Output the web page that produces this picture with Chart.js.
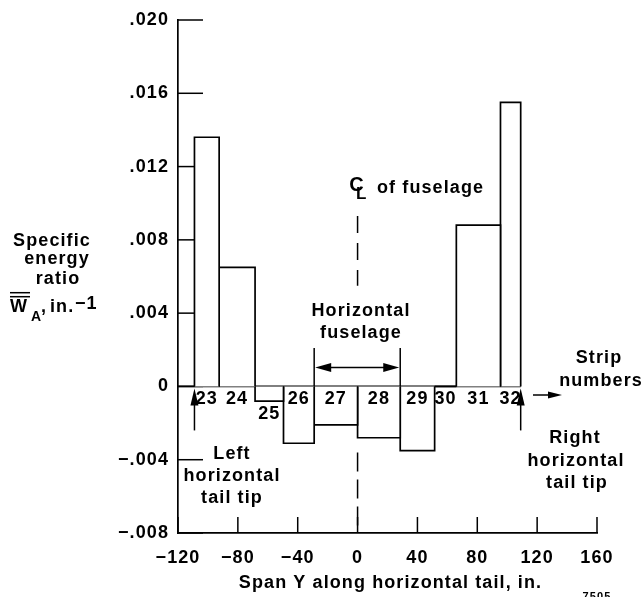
<!DOCTYPE html>
<html>
<head>
<meta charset="utf-8">
<script src="https://cdn.jsdelivr.net/npm/chart.js@4"></script>
<style>
  body { margin: 0; background: #fff; overflow: hidden; }
  canvas { display: block; }
</style>
</head>
<body>
<canvas id="chart" width="642" height="597"></canvas>
<script>
// strip data
const stripNumbers = [23, 24, 25, 26, 27, 28, 29, 30, 31, 32];
const stripEdges = [-109, -92.5, -68.5, -49.5, -29, 0, 28.5, 51.5, 66, 95.5, 109];
const energyRatio = [0.0136, 0.0065, -0.0008, -0.0031, -0.0021, -0.0028, -0.0035, 0, 0.0088, 0.0155];

const spanTicks = [-120, -80, -40, 0, 40, 80, 120, 160];
const ratioTicks = [-0.008, -0.004, 0, 0.004, 0.008, 0.012, 0.016, 0.020];

// fuselage limits and centerline dashes
const fuselageEdges = [-29, 28.5];
const fuselageArrowY = 0.00103;
const fuselageLineTop = 0.0021;
const centerlineUpper = [0.0093, 0.0055];
const centerlineLower = [-0.0036, -0.008];

const FONT = '"Liberation Sans", Arial, sans-serif';
Chart.defaults.font.family = FONT;
Chart.defaults.color = '#000';

const datasets = [];
stripNumbers.forEach((n, i) => {
    const x0 = stripEdges[i], x1 = stripEdges[i + 1], v = energyRatio[i];
    datasets.push({
        label: 'Strip ' + n,
        data: [{x: x0, y: 0}, {x: x0, y: v}, {x: x1, y: v}, {x: x1, y: 0}],
        borderColor: '#000',
        borderWidth: 1.7,
        backgroundColor: '#fff',
        fill: 'origin',
        pointRadius: 0,
        tension: 0
    });
});
// zero line from the axis to the right tail tip
datasets.push({
    label: 'zero',
    data: [{x: spanTicks[0], y: 0}, {x: stripEdges[stripEdges.length - 1], y: 0}],
    borderColor: '#000', borderWidth: 1.7, pointRadius: 0, fill: false
});
// fuselage limit lines
fuselageEdges.forEach(e => {
    datasets.push({
        label: 'fuselage',
        data: [{x: e, y: 0}, {x: e, y: fuselageLineTop}],
        borderColor: '#000', borderWidth: 1.5, pointRadius: 0, fill: false
    });
});
// centerline of fuselage (drawn underneath the bars)
datasets.push({
    label: 'CL upper',
    data: [{x: 0, y: centerlineUpper[0]}, {x: 0, y: centerlineUpper[1]}],
    borderColor: '#000', borderWidth: 1.5, borderDash: [17, 10], pointRadius: 0, fill: false
});
datasets.push({
    label: 'CL lower',
    data: [{x: 0, y: centerlineLower[0]}, {x: 0, y: centerlineLower[1]}],
    borderColor: '#000', borderWidth: 1.5, borderDash: [19, 8], pointRadius: 0, fill: false
});

function fmtRatio(v) {
    if (Math.abs(v) < 1e-9) return '0';
    return (v < 0 ? '\u2212' : '') + Math.abs(v).toFixed(3).replace(/^0/, '');
}
function fmtSpan(v) {
    return v < 0 ? '\u2212' + Math.abs(v) : String(v);
}

function text(ctx, s, x, y, size, align, baseline) {
    ctx.font = 'bold ' + size + 'px ' + FONT;
    ctx.textAlign = align || 'center';
    ctx.textBaseline = baseline || 'middle';
    ctx.fillText(s, x, y);
}
function arrowHead(ctx, x, y, dx, dy, len, half) {
    // tip at (x,y), pointing along (dx,dy)
    const px = -dy, py = dx;
    ctx.beginPath();
    ctx.moveTo(x, y);
    ctx.lineTo(x - dx * len + px * half, y - dy * len + py * half);
    ctx.lineTo(x - dx * len - px * half, y - dy * len - py * half);
    ctx.closePath();
    ctx.fill();
}
function seg(ctx, x0, y0, x1, y1) {
    ctx.beginPath();
    ctx.moveTo(x0, y0);
    ctx.lineTo(x1, y1);
    ctx.stroke();
}

const annotations = {
    id: 'annotations',
    beforeDraw(chart) {
        chart.ctx.letterSpacing = '1.1px';
    },
    beforeDatasetsDraw(chart) {
        const {ctx, chartArea, scales: {x, y}} = chart;
        ctx.save();
        ctx.strokeStyle = '#000';
        ctx.lineWidth = 1.5;
        y.ticks.forEach(t => {
            const py = y.getPixelForValue(t.value);
            seg(ctx, chartArea.left, py, chartArea.left + 25, py);
        });
        x.ticks.forEach(t => {
            const px = x.getPixelForValue(t.value);
            seg(ctx, px, chartArea.bottom, px, chartArea.bottom - 16);
        });
        ctx.restore();
    },
    afterDatasetsDraw(chart) {
        const {ctx, scales: {x, y}} = chart;
        const y0 = y.getPixelForValue(0);
        ctx.save();
        ctx.fillStyle = '#000';
        ctx.strokeStyle = '#000';
        ctx.lineWidth = 1.5;

        // strip numbers under the zero line
        stripNumbers.forEach((n, i) => {
            const cx = x.getPixelForValue((stripEdges[i] + stripEdges[i + 1]) / 2);
            const dy = n === 25 ? 28 : 13;
            text(ctx, String(n), cx, y0 + dy, 18);
        });

        // tail tip arrows
        [stripEdges[0], stripEdges[stripEdges.length - 1]].forEach(e => {
            const px = x.getPixelForValue(e);
            seg(ctx, px, y0 + 44, px, y0 + 10);
            arrowHead(ctx, px, y0 + 2, 0, -1, 17, 4);
        });

        // fuselage width arrow
        const fa = y.getPixelForValue(fuselageArrowY);
        const fl = x.getPixelForValue(fuselageEdges[0]);
        const fr = x.getPixelForValue(fuselageEdges[1]);
        seg(ctx, fl + 10, fa, fr - 10, fa);
        arrowHead(ctx, fl + 1, fa, -1, 0, 16, 4.5);
        arrowHead(ctx, fr - 1, fa, 1, 0, 16, 4.5);
        text(ctx, 'Horizontal', 361, 311, 18);
        text(ctx, 'fuselage', 361, 333, 18);

        // centerline label (C and L overlapped)
        text(ctx, 'C', 357, 185, 20);
        text(ctx, 'L', 356, 199, 17, 'left', 'alphabetic');
        text(ctx, 'of fuselage', 377, 188, 18, 'left');

        // strip numbers arrow and label
        seg(ctx, 533, 395, 550, 395);
        arrowHead(ctx, 562, 395, 1, 0, 14, 3.5);
        text(ctx, 'Strip', 599, 358, 18);
        text(ctx, 'numbers', 601, 381, 18);

        // tail tip labels
        text(ctx, 'Left', 232, 454, 18);
        text(ctx, 'horizontal', 232, 476, 18);
        text(ctx, 'tail tip', 232, 498, 18);
        text(ctx, 'Right', 575, 438, 18);
        text(ctx, 'horizontal', 576, 461, 18);
        text(ctx, 'tail tip', 577, 483, 18);

        // y-axis title
        text(ctx, 'Specific', 52, 241, 18);
        text(ctx, 'energy', 57, 259, 18);
        text(ctx, 'ratio', 58, 279, 18);
        text(ctx, 'W', 10, 311.7, 18, 'left', 'alphabetic');
        seg(ctx, 10, 292.7, 30, 292.7);
        seg(ctx, 10, 296.7, 30, 296.7);
        text(ctx, 'A', 31, 321, 14, 'left', 'alphabetic');
        text(ctx, ',', 41, 312, 18, 'left', 'alphabetic');
        text(ctx, 'in.', 50, 311.7, 18, 'left', 'alphabetic');
        text(ctx, '\u22121', 75, 309, 18, 'left', 'alphabetic');

        // x-axis title
        text(ctx, 'Span Y along horizontal tail, in.', 390.5, 588, 18, 'center', 'alphabetic');
        text(ctx, '7505', 597, 591, 11, 'center', 'top');
        ctx.restore();
    }
};

new Chart(document.getElementById('chart'), {
    type: 'line',
    data: {datasets: datasets},
    options: {
        responsive: false,
        animation: false,
        devicePixelRatio: 1,
        layout: {padding: {top: 20, right: 45, left: 0, bottom: 0}},
        plugins: {legend: {display: false}, tooltip: {enabled: false}},
        scales: {
            x: {
                type: 'linear',
                min: spanTicks[0],
                max: spanTicks[spanTicks.length - 1],
                afterBuildTicks: s => { s.ticks = spanTicks.map(v => ({value: v})); },
                afterFit: s => { s.height = 64; },
                grid: {display: false, drawTicks: false},
                border: {display: true, color: '#000', width: 1.7},
                ticks: {
                    padding: 14,
                    autoSkip: false,
                    maxRotation: 0,
                    font: {size: 18, weight: 'bold'},
                    color: '#000',
                    callback: fmtSpan
                }
            },
            y: {
                type: 'linear',
                min: ratioTicks[0],
                max: ratioTicks[ratioTicks.length - 1],
                afterBuildTicks: s => { s.ticks = ratioTicks.map(v => ({value: v})); },
                afterFit: s => { s.width = 178; },
                grid: {display: false, drawTicks: false},
                border: {display: true, color: '#000', width: 1.7},
                ticks: {
                    padding: 9,
                    font: {size: 18, weight: 'bold'},
                    color: '#000',
                    callback: fmtRatio
                }
            }
        }
    },
    plugins: [annotations]
});
</script>
</body>
</html>
